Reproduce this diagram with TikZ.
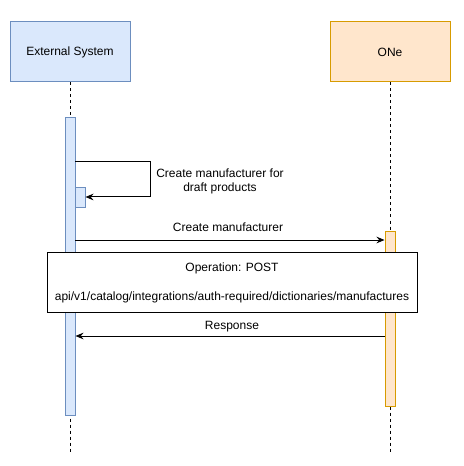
\documentclass[tikz,border=0pt]{standalone}
\usepackage{fontspec}
\setmainfont{Liberation Sans}
\usetikzlibrary{arrows.meta}
\definecolor{bluefill}{HTML}{DAE8FC}
\definecolor{blueline}{HTML}{6C8EBF}
\definecolor{orfill}{HTML}{FFE6CC}
\definecolor{orline}{HTML}{D79B00}
\begin{document}
\begin{tikzpicture}[x=0.75pt,y=-0.75pt,
  every node/.style={font=\fontsize{9pt}{10.5pt}\selectfont, inner sep=0pt},
  actor/.style={draw, minimum width=90pt, minimum height=45pt, line width=0.75pt},
  actblue/.style={actor, fill=bluefill, draw=blueline},
  actor2/.style={actor, fill=orfill, draw=orline},
  life/.style={dashed, line width=0.75pt, dash pattern=on 2.25pt off 2.25pt},
  actv/.style={draw, minimum width=7.5pt, line width=0.75pt},
  msg/.style={line width=0.75pt, -{Stealth[length=6pt,width=5pt,inset=2pt]}},
  lbl/.style={align=center, fill=none}]
\useasboundingbox (0,0) rectangle (463,466);
% actors
\node[actblue] (ext) at (70,52) {External System};
\node[actor2] (one) at (390,52) {ONe};
\coordinate (extend) at (70,452);
\coordinate (oneend) at (390,452);
\draw[life] (ext.south) -- (extend);
\draw[life] (one.south) -- (oneend);
% activations
\node[actv, fill=bluefill, draw=blueline, minimum height=223.5pt, anchor=north] (a1) at (70,117) {};
\node[actv, fill=bluefill, draw=blueline, minimum height=15pt, anchor=north] (a2) at (80,187) {};
\node[actv, fill=orfill, draw=orline, minimum height=131.25pt, anchor=north] (a3) at (390,231) {};
% self message
\coordinate (s1) at (75,162);
\coordinate (s2) at (150,162);
\coordinate (s3) at (150,197);
\draw[msg] (s1) -- (s2) -- (s3) -- (a2.east |- s3);
\node[lbl] (l1) at (220,181) {Create manufacturer for\\draft products};
% create manufacturer
\coordinate (c1) at (75,240);
\draw[msg] (c1) -- (a3.west |- c1);
\node[lbl] (l2) at (228,227) {Create manufacturer};
% note
\node[draw, fill=white, line width=0.75pt, minimum width=277.5pt, minimum height=45pt] (note) at (232,282) {};
\node[lbl] (n1) at (232,268) {Operation: POST};
\node[lbl] (n2) at (232,297) {api/v1/catalog/integrations/auth-required/dictionaries/manufactures};
% response
\coordinate (r1) at (385,336);
\draw[msg] (r1) -- (a1.east |- r1);
\node[lbl] (l3) at (232,327) {Response};
\end{tikzpicture}
\end{document}
